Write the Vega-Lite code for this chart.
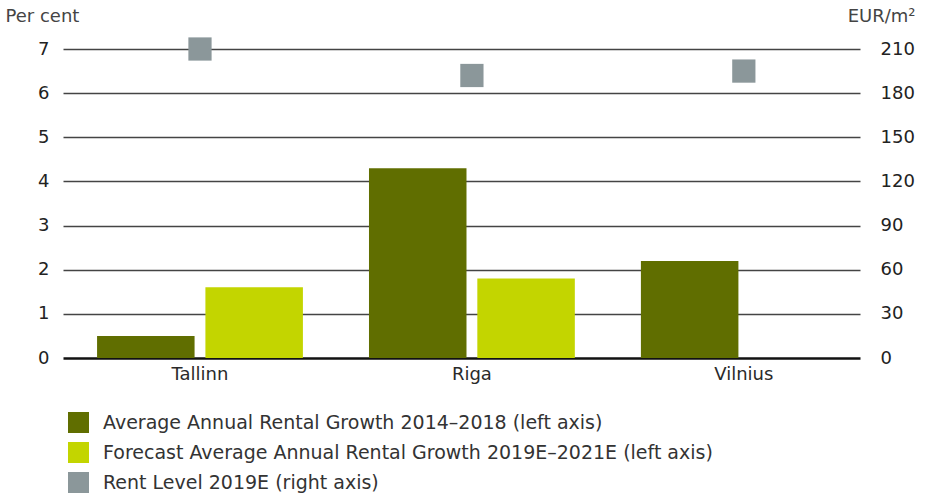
{
  "$schema": "https://vega.github.io/schema/vega-lite/v6.json",
  "width": 797,
  "height": 309,
  "autosize": {"type": "none"},
  "padding": {"left": 63, "top": 49, "right": 88, "bottom": 137},
  "background": "white",
  "config": {
    "font": "DejaVu Sans",
    "view": {"stroke": null},
    "axis": {"labelFont": "DejaVu Sans", "titleFont": "DejaVu Sans"}
  },
  "datasets": {
    "bars": [
      {"city": "Tallinn", "series": "Average Annual Rental Growth 2014–2018 (left axis)", "value": 0.5},
      {"city": "Tallinn", "series": "Forecast Average Annual Rental Growth 2019E–2021E (left axis)", "value": 1.6},
      {"city": "Riga", "series": "Average Annual Rental Growth 2014–2018 (left axis)", "value": 4.3},
      {"city": "Riga", "series": "Forecast Average Annual Rental Growth 2019E–2021E (left axis)", "value": 1.8},
      {"city": "Vilnius", "series": "Average Annual Rental Growth 2014–2018 (left axis)", "value": 2.2}
    ],
    "rent": [
      {"city": "Tallinn", "series": "Rent Level 2019E (right axis)", "rent": 210},
      {"city": "Riga", "series": "Rent Level 2019E (right axis)", "rent": 192},
      {"city": "Vilnius", "series": "Rent Level 2019E (right axis)", "rent": 195}
    ]
  },
  "layer": [
    {
      "data": {"name": "bars"},
      "mark": {"type": "bar"},
      "encoding": {
        "x": {
          "field": "city", "type": "nominal", "sort": ["Tallinn", "Riga", "Vilnius"],
          "scale": {"domain": ["Tallinn", "Riga", "Vilnius"], "paddingInner": 0.243, "paddingOuter": 0.087, "align": 0.72},
          "axis": {"title": null, "labelAngle": 0, "domain": false, "ticks": false, "labelPadding": 7, "labelFontSize": 18, "labelColor": "#2a2a2a", "labelFontWeight": "normal"}
        },
        "xOffset": {"field": "series", "type": "nominal", "scale": {"paddingInner": 0.1, "domain": ["Average Annual Rental Growth 2014–2018 (left axis)", "Forecast Average Annual Rental Growth 2019E–2021E (left axis)"]}},
        "y": {
          "field": "value", "type": "quantitative",
          "scale": {"domain": [0, 7], "nice": false},
          "axis": {
            "orient": "left", "values": [0, 1, 2, 3, 4, 5, 6, 7], "domain": false, "ticks": false,
            "grid": true,
            "gridColor": {"condition": {"test": "datum.value === 0", "value": "#111111"}, "value": "#444444"},
            "gridWidth": {"condition": {"test": "datum.value === 0", "value": 2.5}, "value": 1.3},
            "gridOpacity": 1,
            "labelPadding": 14, "labelFontSize": 18, "labelColor": "#222222",
            "title": "Per cent", "titleAngle": 0, "titleAlign": "left", "titleBaseline": "middle",
            "titleX": -58, "titleY": -33, "titleFontSize": 18, "titleFontWeight": "normal", "titleColor": "#444444"
          }
        },
        "color": {
          "field": "series", "type": "nominal",
          "scale": {
            "domain": ["Average Annual Rental Growth 2014–2018 (left axis)", "Forecast Average Annual Rental Growth 2019E–2021E (left axis)", "Rent Level 2019E (right axis)"],
            "range": ["#606e00", "#c3d500", "#8b979a"]
          },
          "legend": {
            "title": null, "orient": "bottom", "direction": "vertical", "symbolType": "square",
            "symbolSize": 440, "symbolStrokeWidth": 0, "labelFontSize": 19, "labelColor": "#333333",
            "labelLimit": 900, "rowPadding": 9, "labelOffset": 14, "offset": 24, "padding": 5
          }
        }
      }
    },
    {
      "data": {"name": "rent"},
      "mark": {"type": "square", "filled": true, "size": 540, "opacity": 1},
      "encoding": {
        "x": {"field": "city", "type": "nominal", "sort": ["Tallinn", "Riga", "Vilnius"]},
        "y": {
          "field": "rent", "type": "quantitative",
          "scale": {"domain": [0, 210], "nice": false},
          "axis": {
            "orient": "right", "values": [0, 30, 60, 90, 120, 150, 180, 210], "domain": false, "ticks": false, "grid": false,
            "labelPadding": 20, "labelFontSize": 18, "labelColor": "#222222",
            "title": "EUR/m²", "titleAngle": 0, "titleAlign": "right", "titleBaseline": "middle",
            "titleX": 55, "titleY": -33, "titleFontSize": 18, "titleFontWeight": "normal", "titleColor": "#444444"
          }
        },
        "color": {"field": "series", "type": "nominal"}
      }
    }
  ],
  "resolve": {"scale": {"y": "independent"}}
}
